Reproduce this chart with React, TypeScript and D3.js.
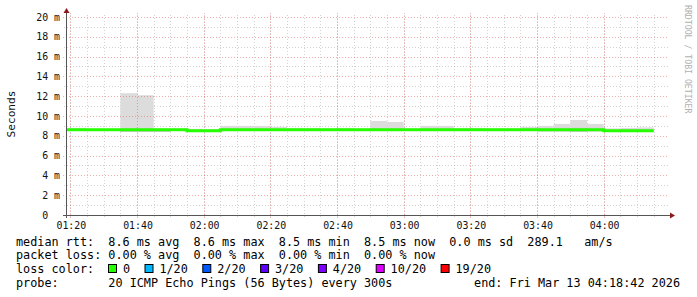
import React from "react";
import * as d3 from "d3";

// ---- data (5-minute bins, ms) ----
const binStarts = [
  "01:15", "01:20", "01:25", "01:30", "01:35", "01:40", "01:45", "01:50", "01:55",
  "02:00", "02:05", "02:10", "02:15", "02:20", "02:25", "02:30", "02:35", "02:40",
  "02:45", "02:50", "02:55", "03:00", "03:05", "03:10", "03:15", "03:20", "03:25",
  "03:30", "03:35", "03:40", "03:45", "03:50", "03:55", "04:00", "04:05", "04:10",
];
const medianMs = [
  8.6, 8.6, 8.6, 8.6, 8.6, 8.6, 8.6, 8.6, 8.5,
  8.5, 8.6, 8.6, 8.6, 8.6, 8.6, 8.6, 8.6, 8.6,
  8.6, 8.6, 8.6, 8.6, 8.6, 8.6, 8.6, 8.6, 8.6,
  8.6, 8.6, 8.6, 8.6, 8.6, 8.6, 8.5, 8.5, 8.5,
];
const minMs = [
  8.5, 8.5, 8.5, 8.5, 8.4, 8.4, 8.4, 8.5, 8.4,
  8.4, 8.5, 8.5, 8.5, 8.5, 8.5, 8.5, 8.5, 8.5,
  8.5, 8.5, 8.5, 8.5, 8.5, 8.5, 8.5, 8.5, 8.5,
  8.5, 8.5, 8.45, 8.45, 8.4, 8.45, 8.4, 8.4, 8.4,
];
const upperMs = [
  8.7, 8.7, 8.65, 8.65, 8.75, 8.75, 8.65, 8.65, 8.6,
  8.6, 8.75, 8.75, 8.75, 8.7, 8.7, 8.7, 8.65, 8.7,
  8.65, 8.75, 8.75, 8.65, 8.75, 8.75, 8.7, 8.7, 8.7,
  8.7, 8.75, 8.75, 8.8, 8.8, 8.8, 8.6, 8.65, 8.65,
];
const maxMs = [
  8.8, 8.8, 8.7, 8.7, 12.3, 12.1, 8.75, 8.75, 8.7,
  8.65, 9.0, 9.0, 9.0, 8.9, 8.8, 8.8, 8.75, 8.8,
  8.75, 9.5, 9.4, 8.75, 9.0, 9.0, 8.8, 8.8, 8.75,
  8.75, 8.9, 9.0, 9.2, 9.6, 9.2, 8.75, 8.8, 8.85,
];
const yTicks = [0, 2, 4, 6, 8, 10, 12, 14, 16, 18, 20];
const xTickLabels = ["01:20", "01:40", "02:00", "02:20", "02:40", "03:00", "03:20", "03:40", "04:00"];
const lossLabels = ["0", "1/20", "2/20", "3/20", "4/20", "10/20", "19/20"];
const lossColors = ["#26ff00", "#00b8ff", "#0059ff", "#5e00ff", "#7e00ff", "#dd00ff", "#ff0000"];
const legendRows = [
  "median rtt:  8.6 ms avg  8.6 ms max  8.5 ms min  8.5 ms now  0.0 ms sd  289.1   am/s",
  "packet loss: 0.00 % avg  0.00 % max  0.00 % min  0.00 % now",
  "loss color:",
  "probe:       20 ICMP Echo Pings (56 Bytes) every 300s",
];
const endText = "end: Fri Mar 13 04:18:42 2026";

const t = (hm: string, s = 0) => {
  const [h, m] = hm.split(":").map(Number);
  return new Date(2026, 2, 13, h, m, s);
};

const W = 697, H = 297;
const X0 = 66, X1 = 666, Y0 = 215, YTOP = 15;
const MONO = "'DejaVu Sans Mono', monospace";

export default function App() {
  const x = d3.scaleTime().domain([t("01:18", 42), t("04:18", 42)]).range([X0, X1]);
  const y = d3.scaleLinear().domain([0, 20.2]).range([Y0, YTOP]);

  const minorX = d3.timeMinute.every(5)!.range(t("01:18", 42), t("04:18", 42));
  const majorX = xTickLabels.map((l) => t(l));
  const minorY = d3.range(1, 21, 2);

  const bins = binStarts.map((s, i) => {
    const a = t(s);
    const b = d3.timeMinute.offset(a, 5);
    const xa = Math.max(X0, x(a));
    const xb = Math.min(X1, x(b));
    return { xa, xb, i };
  });

  const linePts: [number, number][] = binStarts.map((s, i) => [Math.max(X0, x(t(s))), y(medianMs[i])]);
  linePts.push([x(d3.timeMinute.offset(t(binStarts[binStarts.length - 1]), 5)), y(medianMs[medianMs.length - 1])]);
  const medianPath = d3.line().curve(d3.curveStepAfter)(linePts) || "";

  // legend layout
  let lx = 108.5;
  const legendItems = lossLabels.map((lab, i) => {
    const bx = lx;
    const tx = bx + 14.4;
    lx = tx + lab.length * 7.1 + 15;
    return { lab, color: lossColors[i], bx, tx };
  });

  const minorGrid = "rgba(140,140,140,0.38)";
  const majorGrid = "rgba(225,60,60,0.42)";

  return (
    <svg width={W} height={H} style={{ position: "absolute", left: 0, top: 0, background: "#fff" }}>
      <rect x={0} y={0} width={W} height={H} fill="#fff" />
      {/* minor grid */}
      {minorX.map((d, i) => (
        <line key={"mx" + i} x1={Math.round(x(d)) + 0.5} x2={Math.round(x(d)) + 0.5} y1={Y0 + 2} y2={YTOP - 2}
          stroke={minorGrid} strokeDasharray="1,2" />
      ))}
      {minorY.map((v) => (
        <line key={"my" + v} x1={X0 - 2} x2={X1 + 2} y1={Math.round(y(v)) + 0.5} y2={Math.round(y(v)) + 0.5}
          stroke={minorGrid} strokeDasharray="1,2" />
      ))}
      {/* smoke */}
      {bins.map(({ xa, xb, i }) => (
        <g key={"s" + i}>
          <rect x={xa} width={xb - xa} y={y(maxMs[i])} height={y(minMs[i]) - y(maxMs[i])} fill="#dcdcdc" />
          <rect x={xa} width={xb - xa} y={y(upperMs[i])} height={y(minMs[i]) - y(upperMs[i])} fill="#c8c8c8" />
        </g>
      ))}
      {/* major grid */}
      {majorX.map((d, i) => (
        <line key={"Mx" + i} x1={Math.round(x(d)) + 0.5} x2={Math.round(x(d)) + 0.5} y1={Y0 + 3} y2={YTOP - 2}
          stroke={majorGrid} strokeDasharray="1,2" />
      ))}
      {yTicks.filter((v) => v > 0).map((v) => (
        <line key={"My" + v} x1={X0 - 3} x2={X1 + 2} y1={Math.round(y(v)) + 0.5} y2={Math.round(y(v)) + 0.5}
          stroke={majorGrid} strokeDasharray="1,2" />
      ))}
      {/* median line */}
      <path d={medianPath} fill="none" stroke="#26ff00" strokeWidth={3} />
      {/* axes */}
      <line x1={X0 + 0.5} x2={X0 + 0.5} y1={Y0 + 3} y2={YTOP - 2} stroke="#555" strokeWidth={1} />
      <line x1={X0 - 3} x2={X1 + 4} y1={Y0 + 0.5} y2={Y0 + 0.5} stroke="#555" strokeWidth={1} />
      <path d={`M${X0 + 0.5},${YTOP - 7} L${X0 - 2.5},${YTOP - 2} L${X0 + 3.5},${YTOP - 2} Z`} fill="#8b1a1a" />
      <path d={`M${X1 + 9},${Y0 + 0.5} L${X1 + 4},${Y0 - 2.5} L${X1 + 4},${Y0 + 3.5} Z`} fill="#8b1a1a" />
      {/* y labels */}
      {yTicks.map((v) => (
        <text key={"yl" + v} x={60} y={y(v) + 3.6} textAnchor="end" fontFamily={MONO} fontSize={9.9}
          fill="#111" style={{ whiteSpace: "pre" }}>
          {v === 0 ? "0  " : `${v} m`}
        </text>
      ))}
      {/* x labels */}
      {majorX.map((d, i) => (
        <text key={"xl" + i} x={x(d) + 1} y={228.5} textAnchor="middle" fontFamily={MONO} fontSize={9.9} fill="#111">
          {xTickLabels[i]}
        </text>
      ))}
      {/* y title */}
      <text transform="translate(14.5,114) rotate(-90)" textAnchor="middle" fontFamily={MONO} fontSize={11.2} fill="#111">
        Seconds
      </text>
      {/* watermark */}
      <text transform="translate(685,5) rotate(90)" fontFamily={MONO} fontSize={8.2} fill="#b0b0b0">
        RRDTOOL / TOBI OETIKER
      </text>
      {/* legend */}
      {legendRows.map((r, i) => (
        <text key={"lg" + i} x={16} y={[245.5, 259.3, 273.2, 287][i]} fontFamily={MONO} fontSize={11.8}
          fill="#000" style={{ whiteSpace: "pre" }}>
          {r}
        </text>
      ))}
      {legendItems.map((it) => (
        <g key={"li" + it.lab}>
          <rect x={it.bx} y={264.5} width={8} height={8} fill={it.color} stroke="#000" strokeWidth={1} />
          <text x={it.tx} y={273.2} fontFamily={MONO} fontSize={11.8} fill="#000">{it.lab}</text>
        </g>
      ))}
      <text x={680} y={287} textAnchor="end" fontFamily={MONO} fontSize={11.8} fill="#000" style={{ whiteSpace: "pre" }}>
        {endText}
      </text>
    </svg>
  );
}
